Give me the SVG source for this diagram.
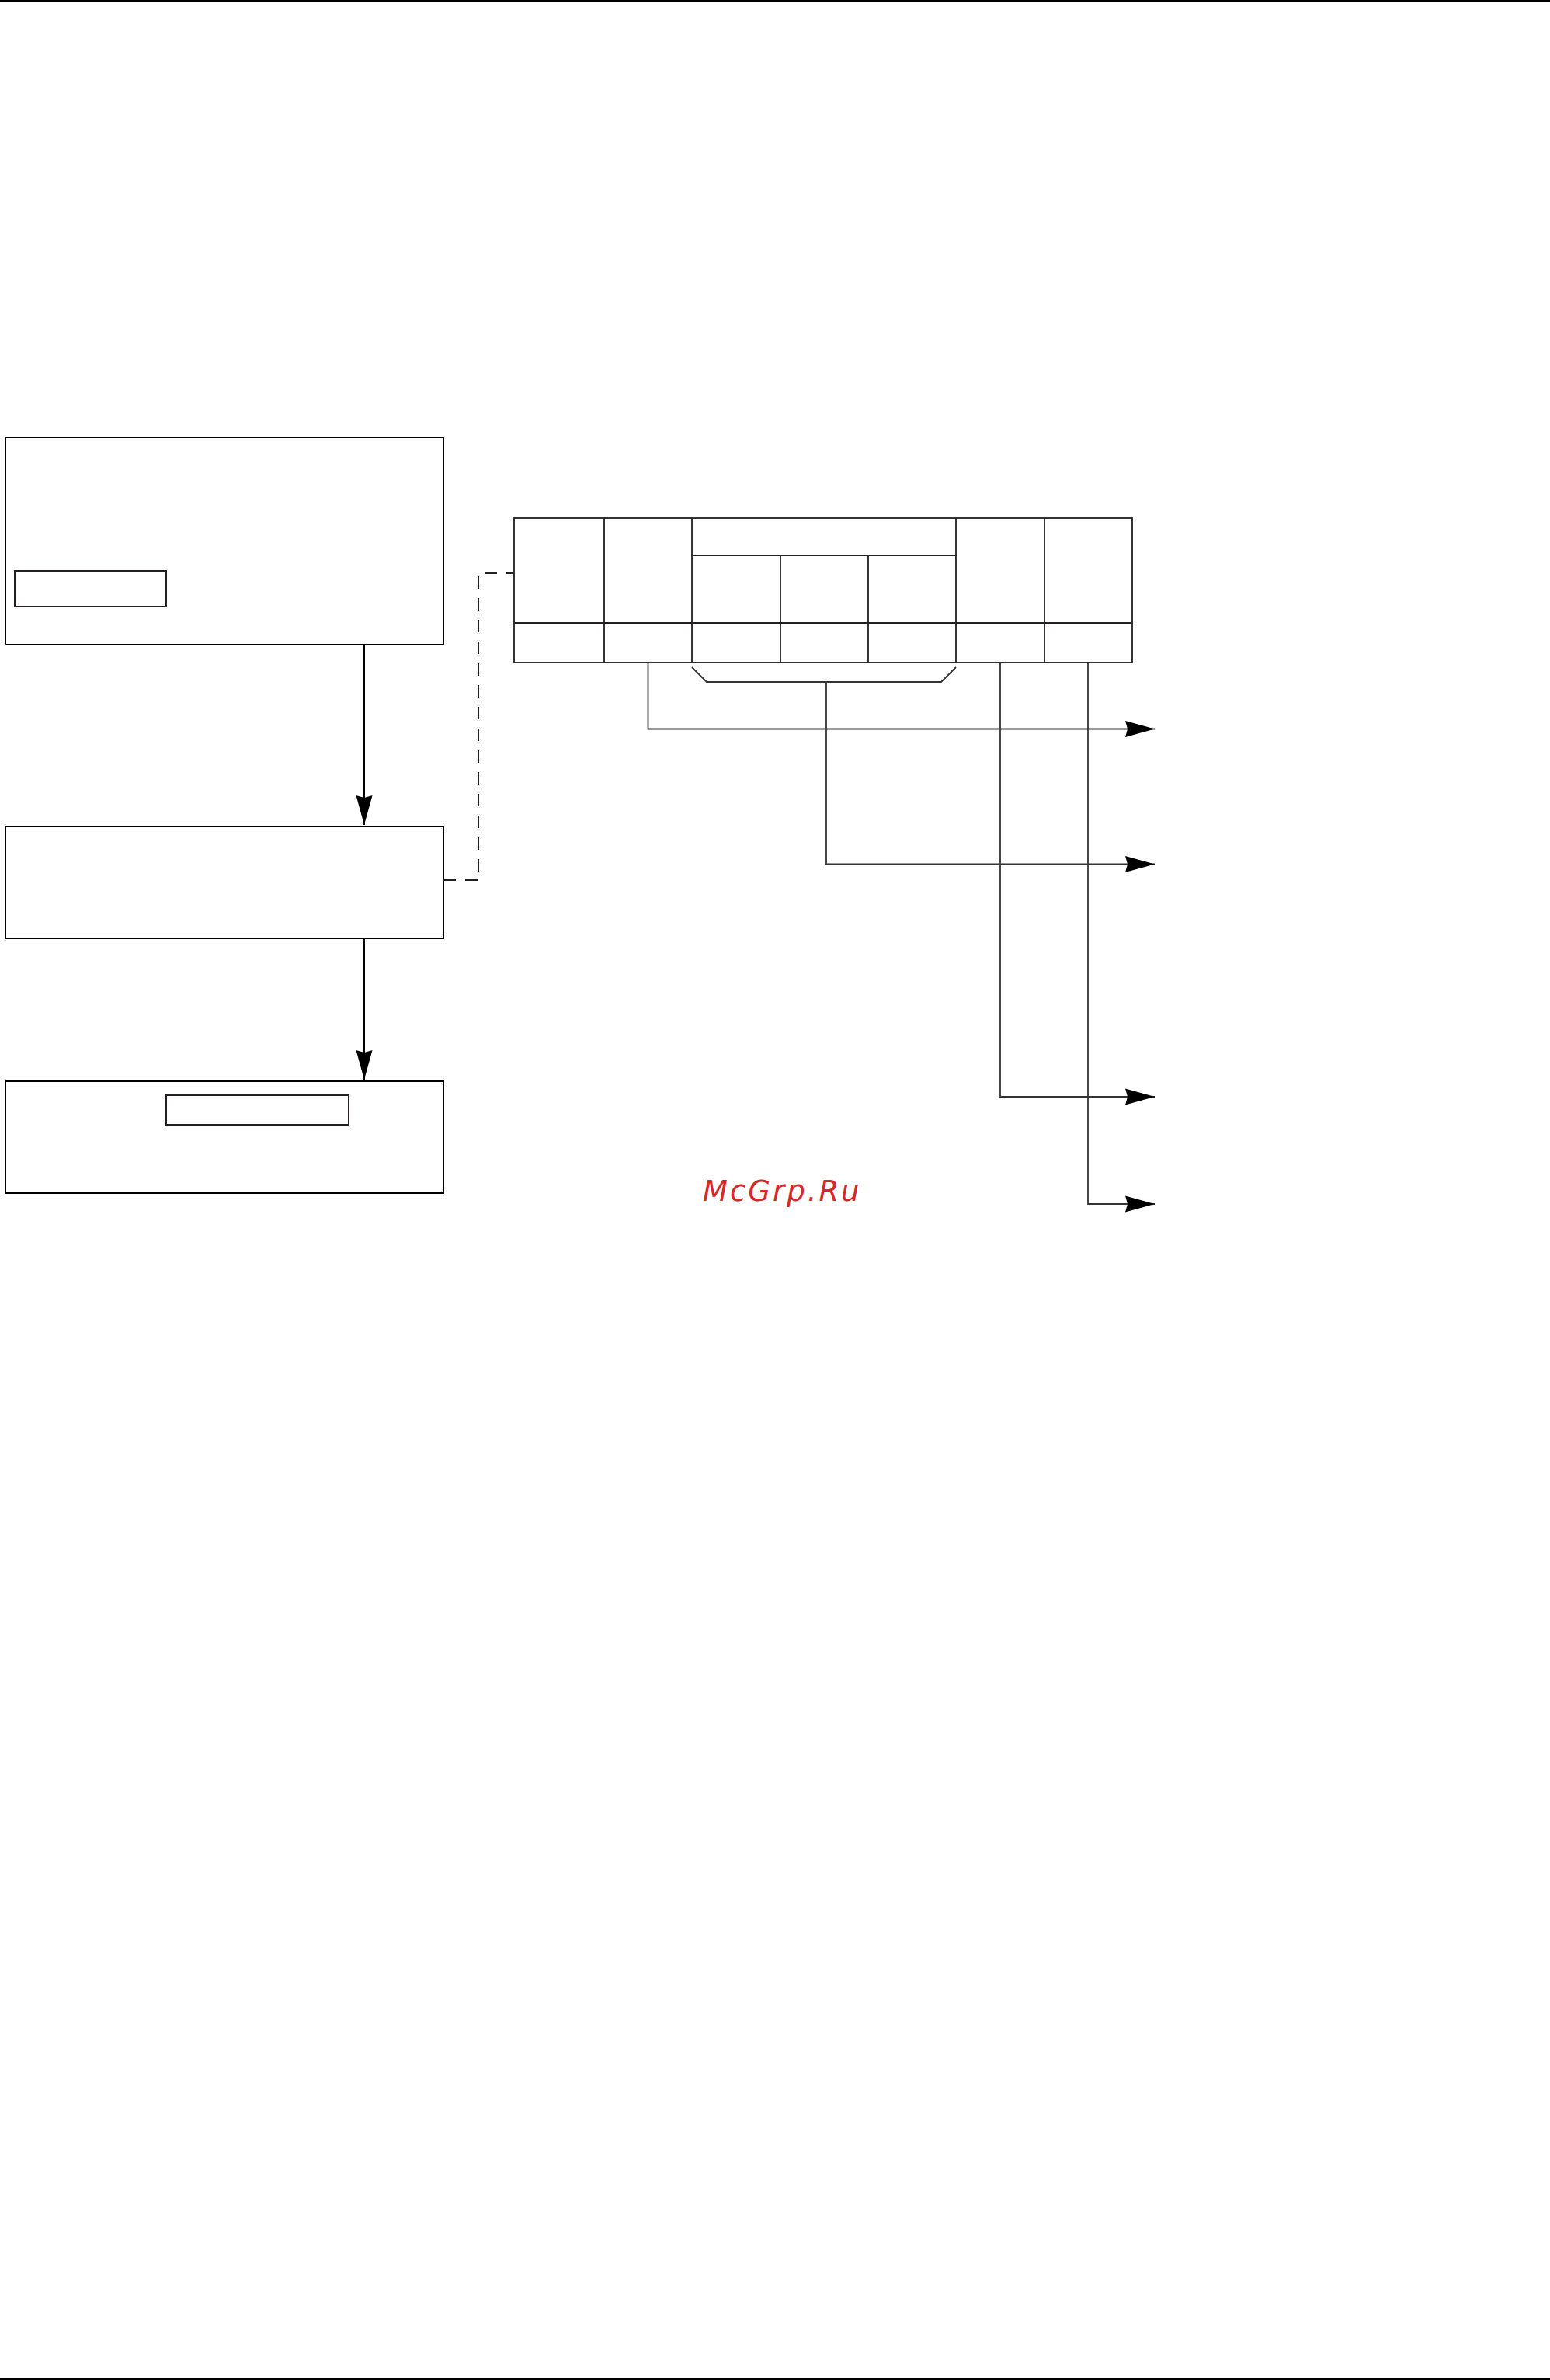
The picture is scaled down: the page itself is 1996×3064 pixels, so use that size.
<svg xmlns="http://www.w3.org/2000/svg" width="1996" height="3064" viewBox="0 0 1996 3064">
<style>
.box{fill:#fff;stroke:#000;stroke-width:2}
.inner{fill:none;stroke:#231f20;stroke-width:2}
.tbl{fill:none;stroke:#231f20;stroke-width:1.8}
.con{fill:none;stroke:#333;stroke-width:1.8}
.flow{fill:none;stroke:#000;stroke-width:2}
.dash{fill:none;stroke:#231f20;stroke-width:2;stroke-dasharray:16 12}
.rule{stroke:#000;stroke-width:3}
.wm{font-family:"DejaVu Sans",sans-serif;font-style:oblique;font-size:37px;fill:#d62828;letter-spacing:3px}
</style>
<defs>
<marker id="ah" markerUnits="userSpaceOnUse" markerWidth="40" markerHeight="24" viewBox="0 -12 40 24" refX="38" refY="0" orient="auto">
<path d="M0,-10.5 L38,0 L0,10.5 L3,0 Z" fill="#000"/>
</marker>
</defs>
<line class="rule" x1="0" y1="0.5" x2="1996" y2="0.5"/>
<line class="rule" x1="0" y1="3063.5" x2="1996" y2="3063.5"/>
<g id="node-top">
<rect class="box" x="7" y="563" width="564" height="267"/>
<rect class="inner" x="19" y="735" width="195" height="46"/>
</g>
<g id="node-middle">
<rect class="box" x="7" y="1064" width="564" height="144"/>
</g>
<g id="node-bottom">
<rect class="box" x="7" y="1392" width="564" height="144"/>
<rect class="inner" x="214" y="1410" width="235" height="38"/>
</g>
<g id="node-table">
<rect class="tbl" x="662" y="667" width="796" height="186"/>
<path class="tbl" d="M891,715 H1231 M662,802 H1458 M778,667 V853 M891,667 V853 M1231,667 V853 M1345,667 V853 M1005,715 V853 M1118,715 V853"/>
</g>
<g id="connectors">
<path class="flow" d="M469,830 V1062" marker-end="url(#ah)"/>
<path class="flow" d="M469,1208 V1390" marker-end="url(#ah)"/>
<path class="dash" d="M571,1133 H616 V738 H662"/>
<path class="con" d="M891,859 L910,878 H1212 L1231,859"/>
<path class="con" d="M834.5,853 V938.5 H1487" marker-end="url(#ah)"/>
<path class="con" d="M1064,878 V1112.5 H1487" marker-end="url(#ah)"/>
<path class="con" d="M1288,853 V1412 H1487" marker-end="url(#ah)"/>
<path class="con" d="M1401,853 V1550 H1487" marker-end="url(#ah)"/>
</g>
<text class="wm" x="905" y="1546">McGrp.Ru</text>
</svg>
